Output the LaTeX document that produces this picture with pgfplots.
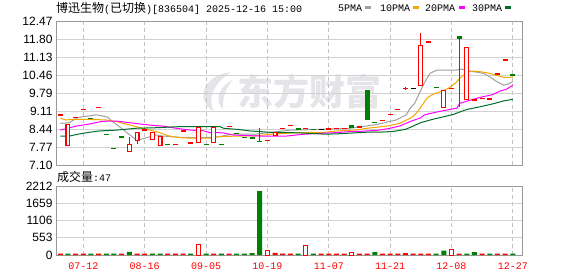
\documentclass[border=0pt]{standalone}
\usepackage{pgfplots}
\pgfplotsset{compat=1.18}
\usepackage{pgfplotstable}
\usepackage{fontspec}
\setmainfont{Liberation Sans}
\newfontfamily\cjk{Noto Sans CJK SC}
\newfontfamily\mono{Liberation Mono}
\definecolor{kred}{RGB}{255,0,0}
\definecolor{kgreen}{RGB}{0,128,0}
\definecolor{ma5c}{RGB}{160,160,160}
\definecolor{ma10c}{RGB}{245,165,0}
\definecolor{ma20c}{RGB}{255,0,255}
\definecolor{ma30c}{RGB}{0,110,40}
\definecolor{wm}{RGB}{229,229,233}
\definecolor{gridc}{RGB}{210,210,210}
\definecolor{vgrid}{RGB}{195,195,195}
\definecolor{framec}{RGB}{153,153,153}

% candle bodies: red hollow (close > open)
\pgfplotstableread{
x lo hi
2 7.80 8.63
10 7.57 7.87
11 7.98 8.32
13 8.02 8.34
14 7.80 8.17
19 7.92 8.51
21 7.91 8.53
29 8.19 8.34
48 10.05 11.575
51 9.21 9.90
54 9.51 11.49
57 9.51 9.59
}\redbody
% green filled bodies (close < open)
\pgfplotstableread{
x lo hi
9 8.12 8.18
32 8.41 8.48
39 8.48 8.59
41 8.79 9.90
53 11.81 11.91
}\greenbody
\pgfplotstableread{
x lo hi
10 7.57 8.14
11 7.89 8.32
46 9.91 10.00
48 10.05 12.03
}\redwick
\pgfplotstableread{
x lo hi
27 7.97 8.47
53 9.25 11.91
}\greenwick
\pgfplotstableread{
x y
1 8.965
3 8.88
4 9.18
6 9.25
12 8.405
16 7.87
17 8.37
18 7.92
23 8.54
28 8.02
30 8.47
31 8.57
33 8.45
36 8.44
37 8.46
38 8.47
40 8.51
43 8.77
44 8.99
45 9.18
46 9.95
49 11.68
52 9.95
55 9.52
56 9.59
58 10.49
59 11.02
}\reddash
\pgfplotstableread{
x y
5 8.83
7 8.245
8 7.72
15 7.87
20 7.87
22 7.87
24 8.28
25 8.13
26 8.10
27 7.98
34 8.43
42 8.69
50 10.00
60 10.46
}\greendash
\pgfplotstableread{
x y
35 8.43
47 9.96
}\blackdash
% moving averages
\pgfplotstableread{
x y
1 8.65
2.2 8.68
3.05 8.84
3.9 8.90
4.8 8.93
5.65 8.97
6.5 8.93
7.2 8.88
7.8 8.72
8.7 8.53
9.8 8.28
10.9 8.04
11.5 8.06
12.4 8.13
13.5 8.22
14.4 8.18
15.4 8.16
16.7 8.13
19.8 8.12
21.5 8.15
23.5 8.25
26.5 8.25
28.8 8.33
31 8.40
34 8.42
36 8.44
38.5 8.46
40.4 8.53
41.3 8.57
42.6 8.63
43.9 8.72
44.8 8.78
45.6 8.90
46.1 8.97
46.6 9.21
47.2 9.40
47.9 9.83
48.55 10.21
49.2 10.52
50.1 10.64
52.7 10.64
53.3 10.68
54 10.62
54.85 10.58
56.15 10.52
57 10.39
57.9 10.21
58.8 10.08
59.4 10.12
60 10.21
}\mafive
\pgfplotstableread{
x y
1 8.84
1.7 8.78
2.6 8.80
4.8 8.80
7 8.78
8.3 8.72
9.1 8.66
10.9 8.53
12.6 8.41
13.9 8.31
15.2 8.18
16.5 8.12
18 8.10
20.5 8.10
21.8 8.16
24.4 8.18
26.6 8.19
28.8 8.26
32.5 8.31
35.6 8.32
37 8.37
39.5 8.405
41 8.47
42.6 8.52
44 8.57
45.3 8.66
46 8.76
46.6 8.84
47.2 8.965
47.9 9.21
48.8 9.59
49.4 9.71
50.5 9.83
51.6 9.96
52.5 10.15
53.3 10.39
54.2 10.58
54.85 10.60
55.7 10.58
56.6 10.54
57.7 10.46
58.8 10.37
59.6 10.37
60 10.39
}\maten
\pgfplotstableread{
x y
1 8.40
3.05 8.55
4.8 8.63
6.5 8.73
8.3 8.74
10.5 8.66
12.6 8.59
14.35 8.55
16.1 8.47
18 8.40
19.6 8.38
20.5 8.31
22.2 8.30
23.5 8.22
25 8.20
27 8.18
30.5 8.18
32.5 8.24
34 8.27
36.5 8.30
38.5 8.34
40.5 8.36
42.6 8.40
44 8.47
45.3 8.56
46.6 8.72
47.9 8.85
48.5 8.97
49.2 9.02
50.5 9.10
51.8 9.17
52.7 9.22
53.1 9.40
54 9.48
55.7 9.62
57.3 9.72
58.3 9.85
59.2 9.93
60 10.08
}\matwenty
\pgfplotstableread{
x y
1 8.18
2.2 8.18
3.5 8.26
4.8 8.32
6.1 8.37
8.3 8.40
10.9 8.47
13.5 8.49
16.5 8.53
21.8 8.53
22.3 8.47
24.4 8.42
25.7 8.37
28.3 8.32
32 8.30
35.5 8.25
37 8.26
39.5 8.30
41.4 8.33
43 8.33
44.4 8.35
46 8.43
47 8.55
48 8.68
49.5 8.80
51 8.90
52.3 8.99
53.1 9.08
54 9.17
55.7 9.27
57.4 9.38
58.8 9.49
60 9.55
}\mathirty
% volume
\pgfplotstableread{
x v
2 45
5 45
7 45
8 45
10 100
13 45
14 45
18 45
20 45
22 45
24 45
25 45
26 60
27 2050
32 45
34 45
42 95
50 45
51 140
54 45
55 90
57 45
60 45
}\volg
\pgfplotstableread{
x v
1 45
3 45
4 45
6 45
9 45
11 45
12 45
15 45
16 45
17 45
21 45
23 45
29 70
30 45
31 45
35 45
36 45
37 45
38 45
40 45
41 45
43 45
44 45
45 45
46 60
47 45
48 45
49 45
53 45
56 45
58 45
59 45
}\volr
\pgfplotstableread{
x v
19 350
28 130
33 290
39 90
52 190
}\volh

\pgfplotsset{
  kpanel/.style={
    scale only axis, width=466pt,
    xmin=0.439, xmax=61.195,
    xtick={4,12,...,60},
    major tick length=0pt,
    xmajorgrids, ymajorgrids,
    x grid style={vgrid, dash pattern=on 4pt off 3pt, line width=0.8pt},
    y grid style={gridc, line width=0.8pt},
    axis line style={framec, line width=0.9pt},
    yticklabel style={font=\fontsize{12}{12}\selectfont, text=black},
  },
  segs/.style 2 args={draw=none, mark=none, forget plot,
    error bars/.cd, y dir=both, y explicit, error mark=none,
    error bar style={draw=#1, line width=#2, solid}},
}

\begin{document}
\begin{tikzpicture}
\path[use as bounding box] (0pt,0pt) rectangle (578pt,276pt);
% watermark logo and name
\fill[wm] (231pt,204pt) .. controls (205pt,201pt) and (193pt,178pt) .. (214pt,164pt)
  .. controls (207pt,178pt) and (214pt,193pt) .. cycle;
\fill[wm] (233pt,196pt) .. controls (219pt,190pt) and (214pt,176pt) .. (223pt,166pt)
  .. controls (222pt,178pt) and (226pt,189pt) .. cycle;
\node[text=wm, font=\cjk\bfseries\fontsize{36}{36}\selectfont, inner sep=0] at (309pt,184pt) {东方财富};

\begin{axis}[kpanel,
  at={(56pt,111pt)}, anchor=south west, height=144pt,
  ymin=7.10, ymax=12.47,
  xticklabels={},
  ytick={7.10,7.77125,8.4425,9.11375,9.785,10.45625,11.1275,11.79875,12.47},
  yticklabels={7.10,7.77,8.44,9.11,9.79,10.46,11.13,11.80,12.47},
]
\addplot[ma5c, line width=1pt, mark=none] table[x=x,y=y] {\mafive};
\addplot[ma10c, line width=1pt, mark=none] table[x=x,y=y] {\maten};
\addplot[ma20c, line width=1pt, mark=none] table[x=x,y=y] {\matwenty};
\addplot[ma30c, line width=1pt, mark=none] table[x=x,y=y] {\mathirty};
% wicks
\addplot[segs={kred}{1pt}]
  table[x=x, y expr=(\thisrow{lo}+\thisrow{hi})/2, y error expr=(\thisrow{hi}-\thisrow{lo})/2] {\redwick};
\addplot[segs={kgreen}{1pt}]
  table[x=x, y expr=(\thisrow{lo}+\thisrow{hi})/2, y error expr=(\thisrow{hi}-\thisrow{lo})/2] {\greenwick};
% red hollow bodies
\addplot[segs={kred}{5pt}]
  table[x=x, y expr=(\thisrow{lo}+\thisrow{hi})/2, y error expr=(\thisrow{hi}-\thisrow{lo})/2] {\redbody};
\addplot[segs={white}{2.8pt}]
  table[x=x, y expr=(\thisrow{lo}+\thisrow{hi})/2, y error expr=(\thisrow{hi}-\thisrow{lo})/2-0.04] {\redbody};
% green bodies
\addplot[segs={kgreen}{5pt}]
  table[x=x, y expr=(\thisrow{lo}+\thisrow{hi})/2, y error expr=(\thisrow{hi}-\thisrow{lo})/2] {\greenbody};
% doji dashes
\addplot[only marks, mark=-, mark size=2.5pt, kred, mark options={line width=1.4pt}] table[x=x,y=y] {\reddash};
\addplot[only marks, mark=-, mark size=2.5pt, kgreen, mark options={line width=1.4pt}] table[x=x,y=y] {\greendash};
\addplot[only marks, mark=-, mark size=2.5pt, black, mark options={line width=1.4pt}] table[x=x,y=y] {\blackdash};
\end{axis}

\begin{axis}[kpanel,
  at={(56pt,21pt)}, anchor=south west, height=69pt,
  ymin=0, ymax=2212,
  xticklabels={07-12,08-16,09-05,10-19,11-07,11-21,12-08,12-27},
  xticklabel style={font=\mono\fontsize{10}{10}\selectfont, text=kred, anchor=center, yshift=-11pt},
  ytick={0,553,1106,1659,2212},
  yticklabels={0,553,1106,1659,2212},
]
\addplot[ybar, bar width=5pt, bar shift=0pt, fill=kgreen, draw=none] table[x=x,y=v] {\volg};
\addplot[ybar, bar width=5pt, bar shift=0pt, fill=kred, draw=none] table[x=x,y=v] {\volr};
\addplot[ybar, bar width=4pt, bar shift=0pt, fill=white, draw=kred, line width=1pt] table[x=x,y=v] {\volh};
\end{axis}

% title line
\node[anchor=west, inner sep=0] at (56pt,268pt) {{\cjk\fontsize{12}{12}\selectfont 博迅生物}{\mono\fontsize{10}{10}\selectfont (}{\cjk\fontsize{12}{12}\selectfont 已切换}{\mono\fontsize{10}{10}\selectfont )[836504] 2025-12-16 15:00}};
% MA legend
\node[anchor=west, inner sep=0, font=\mono\fontsize{10}{10}\selectfont] at (338pt,268pt) {5PMA};
\fill[ma5c] (365pt,266.5pt) rectangle (371pt,270pt);
\node[anchor=west, inner sep=0, font=\mono\fontsize{10}{10}\selectfont] at (380pt,268pt) {10PMA};
\fill[ma10c] (413pt,266.5pt) rectangle (419pt,270pt);
\node[anchor=west, inner sep=0, font=\mono\fontsize{10}{10}\selectfont] at (425pt,268pt) {20PMA};
\fill[ma20c] (459pt,266.5pt) rectangle (465pt,270pt);
\node[anchor=west, inner sep=0, font=\mono\fontsize{10}{10}\selectfont] at (472pt,268pt) {30PMA};
\fill[ma30c] (505pt,266.5pt) rectangle (511pt,270pt);
% volume caption
\node[anchor=west, inner sep=0] at (57pt,99pt) {{\cjk\fontsize{12}{12}\selectfont 成交量}{\mono\fontsize{10}{10}\selectfont :47}};
\end{tikzpicture}
\end{document}
